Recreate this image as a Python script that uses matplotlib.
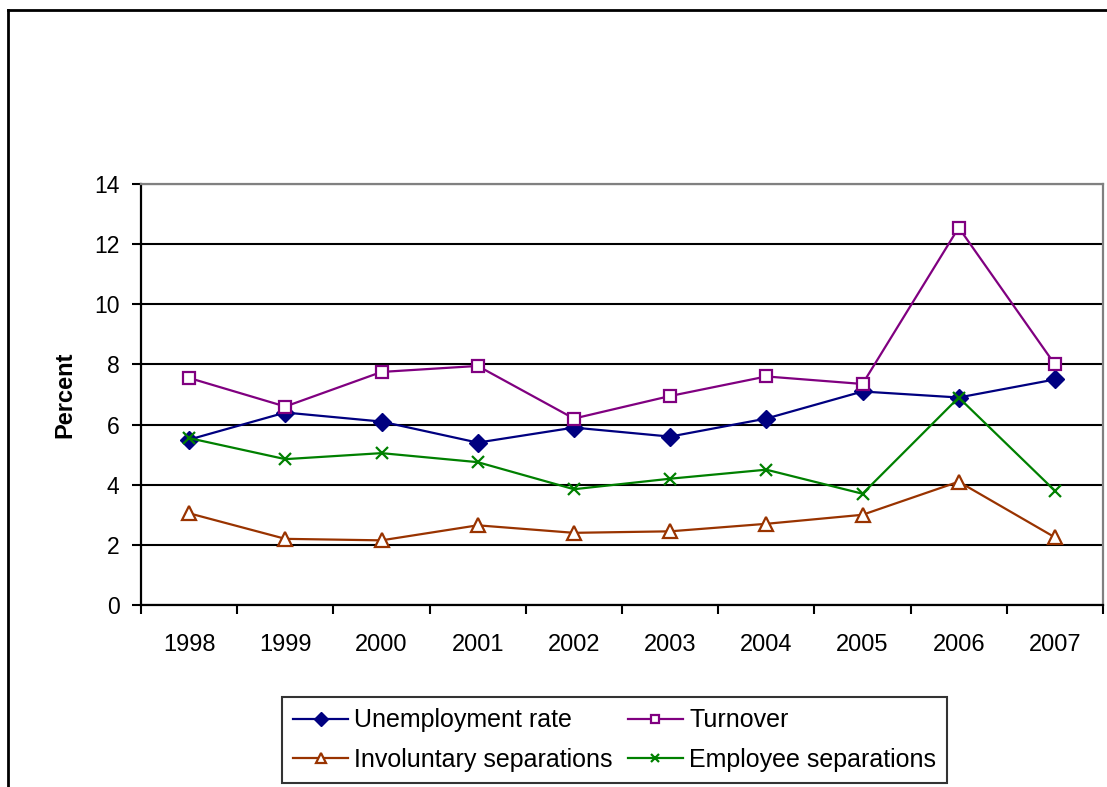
import matplotlib
matplotlib.use("Agg")
import matplotlib.pyplot as plt
from matplotlib.lines import Line2D
import numpy as np

plt.rcParams['font.family'] = ['Liberation Sans', 'DejaVu Sans']

years = ['1998', '1999', '2000', '2001', '2002', '2003', '2004', '2005', '2006', '2007']
unemployment = [5.5, 6.4, 6.1, 5.4, 5.9, 5.6, 6.2, 7.1, 6.9, 7.5]
turnover = [7.55, 6.6, 7.75, 7.95, 6.2, 6.95, 7.6, 7.35, 12.55, 8.0]
involuntary = [3.05, 2.2, 2.15, 2.65, 2.4, 2.45, 2.7, 3.0, 4.1, 2.25]
employee = [5.55, 4.85, 5.05, 4.75, 3.85, 4.2, 4.5, 3.7, 6.9, 3.8]

W, H = 1107, 787
fig = plt.figure(figsize=(W / 100, H / 100), dpi=100)
ax = fig.add_axes([141 / W, 1 - 605 / H, (1103 - 141) / W, (605 - 184) / H])

x = np.arange(len(years))

ax.set_ylim(0, 14)
ax.set_xlim(-0.5, len(years) - 0.5)
ax.set_yticks(range(0, 15, 2))
ax.yaxis.grid(True, color='black', linewidth=1.5)
ax.set_axisbelow(True)

l1, = ax.plot(x, unemployment, color='#000080', lw=1.6, marker='D', ms=9,
              label='Unemployment rate', zorder=3)
l2, = ax.plot(x, turnover, color='#800080', lw=1.6, marker='s', ms=8.5,
              mfc='white', mec='#800080', mew=1.6, label='Turnover', zorder=3)
l3, = ax.plot(x, involuntary, color='#993300', lw=1.6, marker='^', ms=10,
              mfc='white', mec='#993300', mew=1.6, label='Involuntary separations', zorder=3)
l4, = ax.plot(x, employee, color='#008000', lw=1.6, marker='x', ms=8, mew=1.6,
              label='Employee separations', zorder=3)

# x axis: labels centered, ticks between categories
ax.set_xticks(x)
ax.set_xticklabels(years)
ax.set_xticks(np.arange(-0.5, len(years), 1), minor=True)
ax.tick_params(axis='x', which='major', length=0, pad=21, labelsize=17)
ax.tick_params(axis='x', which='minor', length=6.5, width=1.5, direction='out')
ax.tick_params(axis='y', length=6.5, width=1.5, direction='out', pad=9, labelsize=16.5)

for s in ['left', 'bottom']:
    ax.spines[s].set_color('black')
    ax.spines[s].set_linewidth(1.6)
for s in ['top', 'right']:
    ax.spines[s].set_color('#808080')
    ax.spines[s].set_linewidth(1.6)

ax.set_ylabel('Percent', fontsize=17, fontweight='bold', labelpad=13)

# column-major order so rows read: unemployment/turnover, involuntary/employee
leg = fig.legend(handles=[l1, l3, l2, l4],
                 loc='center', bbox_to_anchor=((277 + 952) / 2 / W, 1 - (696 + 784) / 2 / H),
                 ncol=2, fontsize=18, frameon=True, fancybox=False, edgecolor='black',
                 handlelength=2.2, handletextpad=0.25, columnspacing=0.6,
                 labelspacing=0.62, borderpad=0.45, borderaxespad=0, markerscale=0.75)
leg.get_frame().set_linewidth(1.5)

# outer chart border
fig.add_artist(Line2D([7.5 / W, 1], [1 - 9.5 / H, 1 - 9.5 / H], color='black', lw=2))
fig.add_artist(Line2D([7.5 / W, 7.5 / W], [0, 1 - 9.5 / H], color='black', lw=2))

fig.savefig('out.png', dpi=100)
